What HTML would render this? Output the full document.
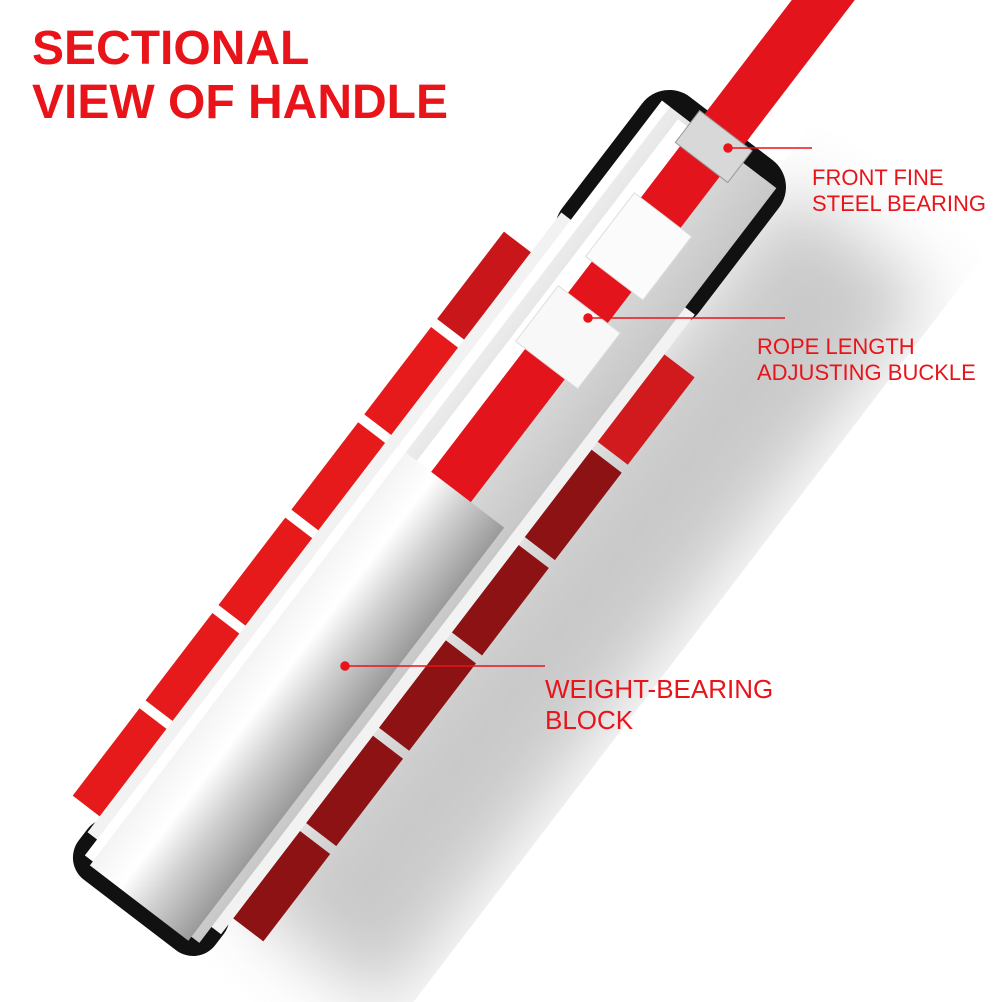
<!DOCTYPE html>
<html><head><style>
html,body{margin:0;padding:0;background:#fff;width:1002px;height:1002px;overflow:hidden;}
.wrap{position:relative;width:1002px;height:1002px;overflow:hidden;background:#fff;font-family:"Liberation Sans",sans-serif;}
.t{position:absolute;color:#e8141a;white-space:nowrap;}
</style></head><body><div class="wrap">
<svg width="1002" height="1002" style="position:absolute;left:0;top:0">
<defs>
<linearGradient id="tube" x1="0" y1="0" x2="0" y2="1"><stop offset="0" stop-color="#f4f4f4"/><stop offset="0.3" stop-color="#ffffff"/><stop offset="0.6" stop-color="#d0d0d0"/><stop offset="1" stop-color="#9a9a9a"/></linearGradient>
<linearGradient id="sleeve" x1="0" y1="0" x2="0" y2="1"><stop offset="0" stop-color="#eee"/><stop offset="1" stop-color="#c8c8c8"/></linearGradient>
<filter id="bl"><feGaussianBlur stdDeviation="35"/></filter>
</defs>
<g transform="translate(130,915) rotate(-52.6)">
 <rect x="80" y="80" width="900" height="180" fill="#8a8a8a" opacity="0.45" filter="url(#bl)"/>
 <rect x="560" y="-30" width="700" height="50" fill="#e3141b"/>
 <g fill="#e61a1a">
  <rect x="60" y="-118" width="110" height="34"/>
  <rect x="180" y="-118" width="110" height="34"/>
  <rect x="300" y="-118" width="110" height="34"/>
  <rect x="420" y="-118" width="110" height="34"/>
  <rect x="540" y="-118" width="110" height="34"/>
  <rect x="660" y="-118" width="110" height="34" fill="#c8161a"/>
 </g>
 <g fill="#8c1214">
  <rect x="60" y="84" width="110" height="38"/>
  <rect x="180" y="84" width="110" height="38"/>
  <rect x="300" y="84" width="110" height="38"/>
  <rect x="420" y="84" width="110" height="38"/>
  <rect x="540" y="84" width="110" height="38"/>
  <rect x="660" y="84" width="110" height="38" fill="#d01a1e"/>
 </g>
 <rect x="0" y="-86" width="70" height="172" rx="28" fill="#111"/>
 <rect x="790" y="-86" width="200" height="172" rx="34" fill="#111"/>
 <rect x="40" y="-84" width="780" height="168" fill="#f2f2f2"/>
 <rect x="20" y="-72" width="950" height="144" fill="url(#sleeve)"/>
 <rect x="20" y="-72" width="950" height="10" fill="#fff"/>
 <rect x="15" y="-62" width="520" height="124" fill="url(#tube)"/>
 <rect x="535" y="-30" width="460" height="50" fill="#e3141b"/>
 <rect x="535" y="-48" width="430" height="18" fill="#fff"/>
 <rect x="690" y="-42" width="70" height="78" fill="#f8f8f8" stroke="#ddd"/>
 <rect x="800" y="-38" width="80" height="72" fill="#fbfbfb" stroke="#ddd"/>
 <rect x="945" y="-36" width="40" height="66" fill="#d8d8d8" stroke="#999"/>
</g>
<g stroke="#e8141a" stroke-width="1.5" fill="#e8141a">
 <line x1="728" y1="148" x2="812" y2="148"/><circle cx="728" cy="148" r="4"/>
 <line x1="588" y1="318" x2="785" y2="318"/><circle cx="588" cy="318" r="4"/>
 <line x1="345" y1="666" x2="545" y2="666"/><circle cx="345" cy="666" r="4"/>
</g>
</svg>
<div class="t" style="left:32px;top:22px;font-size:48px;font-weight:bold;line-height:54px;">SECTIONAL<br>VIEW OF HANDLE</div>
<div class="t" style="left:812px;top:165px;font-size:22px;line-height:26px;">FRONT FINE<br>STEEL BEARING</div>
<div class="t" style="left:757px;top:334px;font-size:22px;line-height:26px;">ROPE LENGTH<br>ADJUSTING BUCKLE</div>
<div class="t" style="left:545px;top:674px;font-size:26px;line-height:31px;">WEIGHT-BEARING<br>BLOCK</div>
</div></body></html>
